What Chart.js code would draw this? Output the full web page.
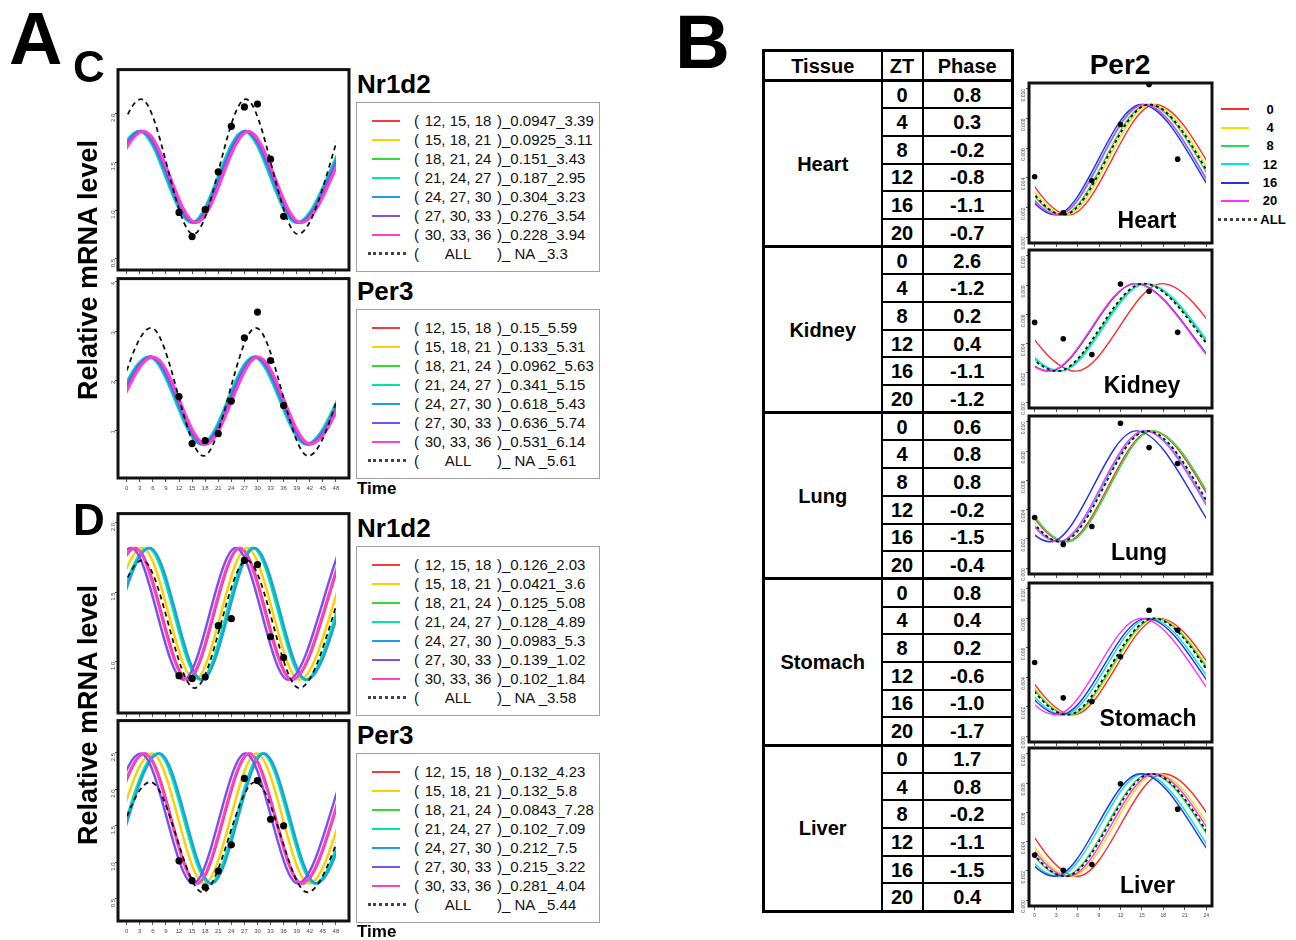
<!DOCTYPE html>
<html lang="en">
<head>
<meta charset="UTF-8">
<title>Phase fits</title>
<script src="https://cdn.jsdelivr.net/npm/chart.js"></script>
<style>
  body { margin: 0; background: #fff; font-family: "Liberation Sans", Arial, sans-serif; }
  #page { position: relative; width: 1296px; height: 940px; overflow: hidden; background: #fff; }
  #page canvas { position: absolute; }
  .t { position: absolute; line-height: 1; white-space: nowrap; color: #000; font-weight: bold; }
  .lg { position: absolute; border: 1px solid #a0a0a0; background: #fff; box-sizing: border-box; width: 244px; height: 170px; }
  .lg span { position: absolute; font-size: 15px; line-height: 19px; white-space: pre; color: #111; }
  .lg i, .lgb i { position: absolute; display: block; }
  #tbl { position: absolute; left: 762px; top: 49px; border-collapse: collapse; table-layout: fixed; width: 251px;
         border: 3px solid #000; font-weight: bold; font-size: 20px; }
  #tbl th, #tbl td { border: 2px solid #000; text-align: center; padding: 0; line-height: 1; }
  #tbl tr.hd { height: 30px; }
  #tbl tr { height: 27.7px; }
  #tbl tr.grp td { border-top: 3px solid #000; }
  #tbl td.tis { border-left: 3px solid #000; }
</style>
</head>
<body>
<div id="page"></div>
<script>
Chart.defaults.font.family = '"Liberation Sans", Arial, sans-serif';

// ---------- panel A : sliding windows ----------
const timeTicksA = [0, 3, 6, 9, 12, 15, 18, 21, 24, 27, 30, 33, 36, 39, 42, 45, 48];
const sampleTimesA = [12, 15, 18, 21, 24, 27, 30, 33, 36];
const windowsA = ['12, 15, 18', '15, 18, 21', '18, 21, 24', '21, 24, 27', '24, 27, 30', '27, 30, 33', '30, 33, 36'];
const colorsA = ['#f23d3d', '#ffd000', '#2fdc2f', '#00e6a2', '#1b9fe6', '#7b4ff0', '#ff3fd2'];

// C, Nr1d2
const cNr1d2Stats = ['0.0947_3.39', '0.0925_3.11', '0.151_3.43', '0.187_2.95', '0.304_3.23', '0.276_3.54', '0.228_3.94'];
const cNr1d2AllStat = 'NA _3.3';
const cNr1d2Obs = [0.98, 0.73, 1.01, 1.40, 1.87, 2.07, 2.10, 1.53, 0.94];
const cNr1d2Levels = [0.875, 1.82];
const cNr1d2AllLevels = [0.755, 2.15];
const cNr1d2TurnX = [          // trough / peak times of each fit
  [-8.61, 3.39, 15.39, 27.39, 39.39, 51.39],
  [-8.89, 3.11, 15.11, 27.11, 39.11, 51.11],
  [-8.57, 3.43, 15.43, 27.43, 39.43, 51.43],
  [-9.05, 2.95, 14.95, 26.95, 38.95, 50.95],
  [-8.77, 3.23, 15.23, 27.23, 39.23, 51.23],
  [-8.46, 3.54, 15.54, 27.54, 39.54, 51.54],
  [-8.06, 3.94, 15.94, 27.94, 39.94, 51.94]
];
const cNr1d2AllTurnX = [-8.7, 3.3, 15.3, 27.3, 39.3, 51.3];
const cNr1d2YTicks = [0.5, 1.0, 1.5, 2.0];
const cNr1d2YLabels = ['0.5', '1.0', '1.5', '2.0'];

// C, Per3
const cPer3Stats = ['0.15_5.59', '0.133_5.31', '0.0962_5.63', '0.341_5.15', '0.618_5.43', '0.636_5.74', '0.531_6.14'];
const cPer3AllStat = 'NA _5.61';
const cPer3Obs = [1.68, 0.73, 0.79, 0.93, 1.59, 2.87, 3.39, 2.41, 1.50];
const cPer3Levels = [0.72, 2.48];
const cPer3AllLevels = [0.48, 3.07];
const cPer3TurnX = [
  [-6.41, 5.59, 17.59, 29.59, 41.59, 53.59],
  [-6.69, 5.31, 17.31, 29.31, 41.31, 53.31],
  [-6.37, 5.63, 17.63, 29.63, 41.63, 53.63],
  [-6.85, 5.15, 17.15, 29.15, 41.15, 53.15],
  [-6.57, 5.43, 17.43, 29.43, 41.43, 53.43],
  [-6.26, 5.74, 17.74, 29.74, 41.74, 53.74],
  [-5.86, 6.14, 18.14, 30.14, 42.14, 54.14]
];
const cPer3AllTurnX = [-6.39, 5.61, 17.61, 29.61, 41.61, 53.61];
const cPer3YTicks = [1, 2, 3, 4];
const cPer3YLabels = ['1', '2', '3', '4'];

// D, Nr1d2
const dNr1d2Stats = ['0.126_2.03', '0.0421_3.6', '0.125_5.08', '0.128_4.89', '0.0983_5.3', '0.139_1.02', '0.102_1.84'];
const dNr1d2AllStat = 'NA _3.58';
const dNr1d2Obs = [0.90, 0.88, 0.89, 1.26, 1.31, 1.73, 1.70, 1.18, 1.03];
const dNr1d2Levels = [0.87, 1.82];
const dNr1d2AllLevels = [0.81, 1.73];
const dNr1d2TurnX = [
  [-9.97, 2.03, 14.03, 26.03, 38.03, 50.03],
  [-8.4, 3.6, 15.6, 27.6, 39.6, 51.6],
  [-6.92, 5.08, 17.08, 29.08, 41.08, 53.08],
  [-7.11, 4.89, 16.89, 28.89, 40.89, 52.89],
  [-6.7, 5.3, 17.3, 29.3, 41.3, 53.3],
  [-10.98, 1.02, 13.02, 25.02, 37.02, 49.02],
  [-10.16, 1.84, 13.84, 25.84, 37.84, 49.84]
];
const dNr1d2AllTurnX = [-8.42, 3.58, 15.58, 27.58, 39.58, 51.58];
const dNr1d2YTicks = [1.0, 1.5, 2.0];
const dNr1d2YLabels = ['1.0', '1.5', '2.0'];

// D, Per3
const dPer3Stats = ['0.132_4.23', '0.132_5.8', '0.0843_7.28', '0.102_7.09', '0.212_7.5', '0.215_3.22', '0.281_4.04'];
const dPer3AllStat = 'NA _5.44';
const dPer3Obs = [1.02, 0.75, 0.66, 0.88, 1.24, 2.15, 2.12, 1.59, 1.50];
const dPer3Levels = [0.71, 2.49];
const dPer3AllLevels = [0.59, 2.10];
const dPer3TurnX = [
  [-7.77, 4.23, 16.23, 28.23, 40.23, 52.23],
  [-6.2, 5.8, 17.8, 29.8, 41.8, 53.8],
  [-4.72, 7.28, 19.28, 31.28, 43.28, 55.28],
  [-4.91, 7.09, 19.09, 31.09, 43.09, 55.09],
  [-4.5, 7.5, 19.5, 31.5, 43.5, 55.5],
  [-8.78, 3.22, 15.22, 27.22, 39.22, 51.22],
  [-7.96, 4.04, 16.04, 28.04, 40.04, 52.04]
];
const dPer3AllTurnX = [-6.56, 5.44, 17.44, 29.44, 41.44, 53.44];
const dPer3YTicks = [0.5, 1.0, 1.5, 2.0, 2.5];
const dPer3YLabels = ['0.5', '1.0', '1.5', '2.0', '2.5'];

// ---------- panel B : Per2 by tissue ----------
const tissues = ['Heart', 'Kidney', 'Lung', 'Stomach', 'Liver'];
const ztLabels = ['0', '4', '8', '12', '16', '20'];
const sampleTimesB = [0, 4, 8, 12, 16, 20];
const timeTicksB = [0, 3, 6, 9, 12, 15, 18, 21, 24];
const colorsB = ['#ff2b2b', '#f0e000', '#22dc5a', '#00e3e3', '#2431dd', '#ff30ff'];
const yTicksB = [0, 2, 4, 6, 8, 10];
const yLabelsB = ['0.000', '0.002', '0.004', '0.006', '0.008', '0.010'];

const heartPhase = ['0.8', '0.3', '-0.2', '-0.8', '-1.1', '-0.7'];
const kidneyPhase = ['2.6', '-1.2', '0.2', '0.4', '-1.1', '-1.2'];
const lungPhase = ['0.6', '0.8', '0.8', '-0.2', '-1.5', '-0.4'];
const stomachPhase = ['0.8', '0.4', '0.2', '-0.6', '-1.0', '-1.7'];
const liverPhase = ['1.7', '0.8', '-0.2', '-1.1', '-1.5', '0.4'];

// peak / trough times of each fit (starting with a peak), levels [low, high], observations
const heartTurnX = [[-7.2, 4.8, 16.8, 28.8], [-7.7, 4.3, 16.3, 28.3], [-8.2, 3.8, 15.8, 27.8],
                    [-8.8, 3.2, 15.2, 27.2], [-9.1, 2.9, 14.9, 26.9], [-8.7, 3.3, 15.3, 27.3]];
const heartAllTurnX = [-8.0, 4.0, 16.0, 28.0];
const heartLevels = [1.5, 8.95];
const heartObs = [4.07, 1.64, 3.8, 7.6, 10.3, 5.26];

const kidneyTurnX = [[-6.2, 5.8, 17.8, 29.8], [-10.0, 2.0, 14.0, 26.0], [-8.6, 3.4, 15.4, 27.4],
                     [-8.4, 3.6, 15.6, 27.6], [-9.9, 2.1, 14.1, 26.1], [-10.0, 2.0, 14.0, 26.0]];
const kidneyAllTurnX = [-8.8, 3.2, 15.2, 27.2];
const kidneyLevels = [2.12, 8.1];
const kidneyObs = [5.45, 4.33, 3.25, 8.08, 7.58, 4.77];

const lungTurnX = [[-7.7, 4.3, 16.3, 28.3], [-7.5, 4.5, 16.5, 28.5], [-7.5, 4.5, 16.5, 28.5],
                   [-8.5, 3.5, 15.5, 27.5], [-9.8, 2.2, 14.2, 26.2], [-8.7, 3.3, 15.3, 27.3]];
const lungAllTurnX = [-8.3, 3.7, 15.7, 27.7];
const lungLevels = [1.8, 9.38];
const lungObs = [3.46, 1.62, 2.85, 9.9, 8.24, 7.15];

const stomachTurnX = [[-6.6, 5.4, 17.4, 29.4], [-7.0, 5.0, 17.0, 29.0], [-7.2, 4.8, 16.8, 28.8],
                      [-8.0, 4.0, 16.0, 28.0], [-8.4, 3.6, 15.6, 27.6], [-9.1, 2.9, 14.9, 26.9]];
const stomachAllTurnX = [-7.4, 4.6, 16.6, 28.6];
const stomachLevels = [1.45, 8.0];
const stomachObs = [5.0, 2.6, 2.35, 5.39, 8.54, 7.19];

const liverTurnX = [[-6.0, 6.0, 18.0, 30.0], [-6.9, 5.1, 17.1, 29.1], [-7.9, 4.1, 16.1, 28.1],
                    [-8.8, 3.2, 15.2, 27.2], [-9.2, 2.8, 14.8, 26.8], [-7.3, 4.7, 16.7, 28.7]];
const liverAllTurnX = [-7.7, 4.3, 16.3, 28.3];
const liverLevels = [1.63, 8.64];
const liverObs = [3.08, 2.04, 2.43, 7.96, null, 6.22];

// ---------- helpers ----------
const page = document.getElementById('page');

function text(str, left, top, size, css) {
  const d = document.createElement('div');
  d.className = 't';
  d.textContent = str;
  d.style.left = left + 'px';
  d.style.top = top + 'px';
  d.style.fontSize = size + 'px';
  if (css) Object.assign(d.style, css);
  page.appendChild(d);
  return d;
}

// alternate low/high levels along the turning points
function turnY(xs, levels, startLow) {
  return xs.map((_, i) => levels[(i + (startLow ? 0 : 1)) % 2]);
}

const frame = {
  id: 'frame',
  afterDraw(chart) {
    const { ctx, chartArea: a } = chart;
    ctx.save();
    ctx.lineWidth = 3;
    ctx.strokeStyle = '#111';
    ctx.strokeRect(a.left, a.top, a.right - a.left, a.bottom - a.top);
    ctx.restore();
  }
};

function addPlot(o) {
  const padT = 4, padR = 4;
  const [l, r, t, b] = o.box;
  const w = r - l, h = b - t;
  const cv = document.createElement('canvas');
  cv.width = w + o.padL + padR;
  cv.height = h + padT + o.padB;
  cv.style.left = (l - o.padL) + 'px';
  cv.style.top = (t - padT) + 'px';
  page.appendChild(cv);

  // curves are only drawn over the sampled day range
  const clip = {
    left: -Math.round((o.x0 - o.xMin) / (o.xMax - o.xMin) * w),
    right: -Math.round((o.xMax - o.x1) / (o.xMax - o.xMin) * w),
    top: 0, bottom: 0
  };
  const n = o.curves.length;
  const datasets = o.curves.map((c, i) => ({
    data: c.x.map((x, j) => ({ x, y: c.y[j] })),
    showLine: true,
    pointRadius: 0,
    borderColor: c.color,
    borderWidth: c.width,
    borderDash: c.dash || [],
    cubicInterpolationMode: 'monotone',
    clip,
    order: n - i
  }));
  datasets.push({
    data: o.obsX.map((x, j) => ({ x, y: o.obsY[j] })).filter(p => p.y !== null),
    showLine: false,
    pointRadius: o.dot,
    pointBackgroundColor: '#000',
    pointBorderWidth: 0,
    clip: false,
    order: 0
  });

  new Chart(cv, {
    type: 'scatter',
    data: { datasets },
    options: {
      responsive: false,
      animation: false,
      devicePixelRatio: 1,
      layout: { padding: { top: padT, right: padR, left: 0, bottom: 0 } },
      plugins: { legend: { display: false }, tooltip: { enabled: false } },
      scales: {
        x: {
          type: 'linear', min: o.xMin, max: o.xMax,
          afterBuildTicks: s => { s.ticks = o.xTicks.map(v => ({ value: v })); },
          afterFit: s => { s.height = o.padB; },
          border: { display: false },
          grid: { drawOnChartArea: false, tickLength: 4, color: '#555' },
          ticks: { autoSkip: false, maxRotation: 0, color: '#444', padding: 3,
                   font: { size: o.font }, callback: v => (o.xLabels ? String(v) : '') }
        },
        y: {
          type: 'linear', min: o.yMin, max: o.yMax,
          afterBuildTicks: s => { s.ticks = o.yTicks.map(v => ({ value: v })); },
          afterFit: s => { s.width = o.padL; },
          border: { display: false },
          grid: { drawOnChartArea: false, tickLength: 3, color: '#555' },
          ticks: { autoSkip: false, minRotation: 90, maxRotation: 90, color: '#444', padding: 2,
                   font: { size: o.font }, callback: (v, i) => o.yLabels[i] }
        }
      }
    },
    plugins: [frame]
  });
}

function plotA(box, turnX, levels, allTurnX, allLevels, obs, yMin, yMax, yTicks, yLabels, lw, xLabels) {
  const curves = turnX.map((xs, i) => ({ x: xs, y: turnY(xs, levels, true), color: colorsA[i], width: lw }));
  curves.push({ x: allTurnX, y: turnY(allTurnX, allLevels, true), color: '#111', width: 1.8, dash: [5, 4] });
  addPlot({
    box, curves, obsX: sampleTimesA, obsY: obs, dot: 3.6,
    xMin: -2, xMax: 51, x0: 0, x1: 48, xTicks: timeTicksA, xLabels,
    yMin, yMax, yTicks, yLabels, padL: 14, padB: xLabels ? 16 : 8, font: 6
  });
}

function plotB(box, turnX, levels, allTurnX, obs, xLabels) {
  const curves = turnX.map((xs, i) => ({ x: xs, y: turnY(xs, levels, false), color: colorsB[i], width: 1.4 }));
  curves.push({ x: allTurnX, y: turnY(allTurnX, levels, false), color: '#111', width: 1.8, dash: [3, 3] });
  addPlot({
    box, curves, obsX: sampleTimesB, obsY: obs, dot: 2.8,
    xMin: -0.79, xMax: 24.8, x0: 0, x1: 24, xTicks: timeTicksB, xLabels,
    yMin: -0.4, yMax: 10.4, yTicks: yTicksB, yLabels: yLabelsB, padL: 16, padB: xLabels ? 14 : 8, font: 5
  });
}

function legendA(top, stats, allStat) {
  const box = document.createElement('div');
  box.className = 'lg';
  box.style.left = '356px';
  box.style.top = top + 'px';
  const row = (i, a, b, c, line) => {
    const y = 8.8 + 19 * i;
    box.appendChild(line(y));
    [[a, 57, 5], [b, 62, 78], [c, 140, 110]].forEach(([s, x, wd], k) => {
      const sp = document.createElement('span');
      sp.textContent = s;
      sp.style.left = x + 'px';
      sp.style.top = y + 'px';
      if (k === 1) { sp.style.width = wd + 'px'; sp.style.textAlign = 'center'; }
      box.appendChild(sp);
    });
  };
  stats.forEach((s, i) => row(i, '(', windowsA[i], ')_' + s, y => {
    const ln = document.createElement('i');
    Object.assign(ln.style, { left: '15px', top: (y + 8.5) + 'px', width: '28px', height: '2px', background: colorsA[i] });
    return ln;
  }));
  row(7, '(', 'ALL', ')_ ' + allStat, y => {
    const ln = document.createElement('i');
    Object.assign(ln.style, { left: '11px', top: (y + 8) + 'px', width: '38px', height: '0', borderTop: '3px dotted #444' });
    return ln;
  });
  page.appendChild(box);
}

// ---------- panel A ----------
plotA([118, 349, 68, 270], cNr1d2TurnX, cNr1d2Levels, cNr1d2AllTurnX, cNr1d2AllLevels, cNr1d2Obs,
      0.385, 2.456, cNr1d2YTicks, cNr1d2YLabels, 3, false);
plotA([118, 349, 277, 478], cPer3TurnX, cPer3Levels, cPer3AllTurnX, cPer3AllLevels, cPer3Obs,
      0.034, 4.066, cPer3YTicks, cPer3YLabels, 3, true);
plotA([118, 349, 512, 713], dNr1d2TurnX, dNr1d2Levels, dNr1d2AllTurnX, dNr1d2AllLevels, dNr1d2Obs,
      0.631, 2.067, dNr1d2YTicks, dNr1d2YLabels, 2.5, false);
plotA([118, 349, 719, 921], dPer3TurnX, dPer3Levels, dPer3AllTurnX, dPer3AllLevels, dPer3Obs,
      0.196, 2.942, dPer3YTicks, dPer3YLabels, 2.5, true);

legendA(101.7, cNr1d2Stats, cNr1d2AllStat);
legendA(308.7, cPer3Stats, cPer3AllStat);
legendA(545.7, dNr1d2Stats, dNr1d2AllStat);
legendA(752.7, dPer3Stats, dPer3AllStat);

text('A', 9, 2, 74);
text('C', 73, 45, 44);
text('D', 73, 498, 44);
text('Nr1d2', 357, 71, 26);
text('Per3', 357, 278, 26);
text('Nr1d2', 357, 515, 26);
text('Per3', 357, 722, 26);
text('Time', 357, 480, 17);
text('Time', 357, 923, 17);
[270, 715].forEach(cy => text('Relative mRNA level', 88, cy, 27,
  { transform: 'translate(-50%, -50%) rotate(-90deg)' }));

// ---------- panel B ----------
text('B', 675, 4, 76);

const phases = [heartPhase, kidneyPhase, lungPhase, stomachPhase, liverPhase];
const tbl = document.createElement('table');
tbl.id = 'tbl';
tbl.innerHTML = '<colgroup><col style="width:118px"><col style="width:41px"><col style="width:90px"></colgroup>' +
  '<tr class="hd"><th>Tissue</th><th>ZT</th><th>Phase</th></tr>' +
  tissues.map((name, k) => ztLabels.map((z, i) =>
    `<tr class="${i === 0 ? 'grp' : ''}">${i === 0 ? `<td rowspan="6" class="tis">${name}</td>` : ''}<td>${z}</td><td>${phases[k][i]}</td></tr>`
  ).join('')).join('');
page.appendChild(tbl);

text('Per2', 1070, 51, 28, { width: '100px', textAlign: 'center' });

plotB([1029, 1212, 82, 243], heartTurnX, heartLevels, heartAllTurnX, heartObs, false);
plotB([1029, 1212, 249, 408], kidneyTurnX, kidneyLevels, kidneyAllTurnX, kidneyObs, false);
plotB([1029, 1212, 415, 574], lungTurnX, lungLevels, lungAllTurnX, lungObs, false);
plotB([1029, 1212, 582, 742], stomachTurnX, stomachLevels, stomachAllTurnX, stomachObs, false);
plotB([1029, 1212, 747, 906], liverTurnX, liverLevels, liverAllTurnX, liverObs, true);

[[1147, 208.5], [1142, 373.5], [1139, 540.5], [1148, 707], [1147.5, 873.5]].forEach(([cx, top], k) =>
  text(tissues[k], cx - 70, top, 23, { width: '140px', textAlign: 'center' }));

// legend of panel B
ztLabels.concat(['ALL']).forEach((lab, i) => {
  const y = 109.3 + 18.3 * i;
  const ln = document.createElement('i');
  ln.className = 'lgb';
  if (i < 6) {
    Object.assign(ln.style, { position: 'absolute', left: '1221px', top: (y - 1) + 'px', width: '28px', height: '2px', background: colorsB[i] });
  } else {
    Object.assign(ln.style, { position: 'absolute', left: '1218px', top: (y - 1.5) + 'px', width: '39px', height: '0', borderTop: '3px dotted #444' });
  }
  page.appendChild(ln);
  text(lab, i < 6 ? 1250 : 1253, y - 6.5, 13, { width: '40px', textAlign: 'center' });
});
</script>
</body>
</html>
